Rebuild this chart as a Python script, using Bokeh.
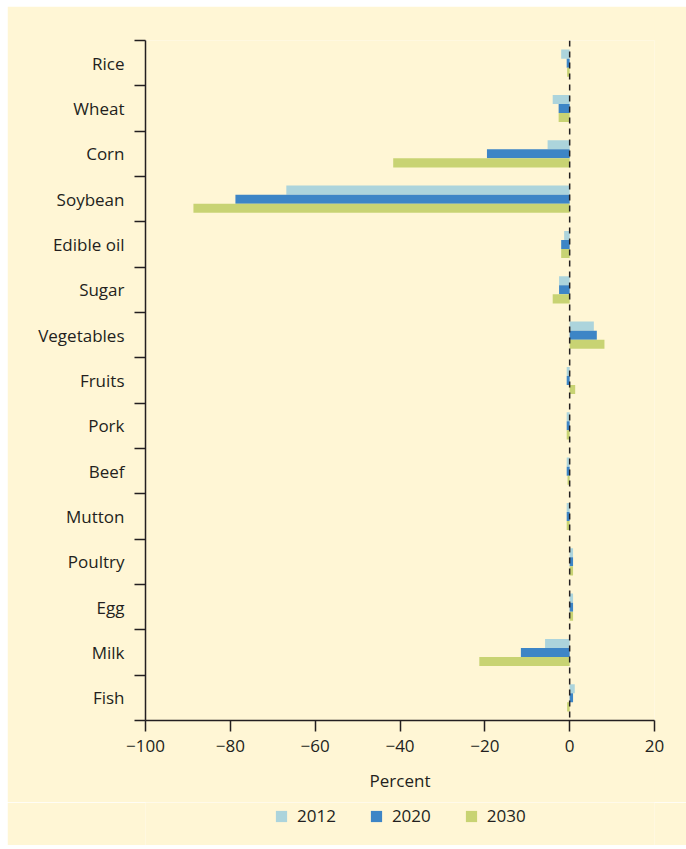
from bokeh.plotting import figure
from bokeh.layouts import column
from bokeh.models import (Range1d, LinearAxis, FixedTicker, Span, Legend, LegendItem,
                          ColumnDataSource)
from bokeh.transform import dodge
from bokeh.embed import file_html
from bokeh.resources import INLINE

categories = ["Rice", "Wheat", "Corn", "Soybean", "Edible oil", "Sugar", "Vegetables",
              "Fruits", "Pork", "Beef", "Mutton", "Poultry", "Egg", "Milk", "Fish"]
v2012 = [-2.0, -4.0, -5.2, -66.8, -1.3, -2.5, 5.7, -0.7, -0.7, -0.7, -0.7, 0.8, 0.8, -5.8, 1.2]
v2020 = [-0.7, -2.6, -19.5, -78.8, -2.0, -2.5, 6.4, -0.7, -0.7, -0.7, -0.7, 0.8, 0.8, -11.5, 0.8]
v2030 = [-0.6, -2.6, -41.6, -88.7, -2.0, -4.0, 8.2, 1.3, -0.7, -0.5, -0.7, 0.8, 0.8, -21.3, -0.6]
years = ["2012", "2020", "2030"]
x_ticks = [-100, -80, -60, -40, -20, 0, 20]

BG = "#fff6d5"
TXT = "#231f20"
FONT = "Open Sans"
FS = "17px"
colors = ["#acd4dc", "#3d85c6", "#c8d373"]

n = len(categories)
ypos = [n - i - 0.5 for i in range(n)]  # category slot centres, first at top
src = ColumnDataSource(dict(cat=categories, y=ypos, y2012=v2012, y2020=v2020, y2030=v2030))

p = figure(frame_width=509, frame_height=680, output_backend="svg", toolbar_location=None,
           y_range=Range1d(0, n), x_range=Range1d(-100, 20),
           x_axis_location=None, y_axis_location=None,
           min_border_left=138, min_border_right=32, min_border_top=34, min_border_bottom=82,
           margin=(6, 0, 0, 7))
p.background_fill_color = BG
p.border_fill_color = BG
p.outline_line_color = None
p.xgrid.visible = False
p.ygrid.visible = False

yax = LinearAxis(ticker=FixedTicker(ticks=ypos, minor_ticks=list(range(n + 1))),
                 major_tick_out=0, major_tick_in=0, minor_tick_out=11, minor_tick_in=0,
                 minor_tick_line_color=TXT, minor_tick_line_width=1.5,
                 axis_line_color=TXT, axis_line_width=1.5,
                 major_label_overrides={y: c for y, c in zip(ypos, categories)},
                 major_label_text_font=FONT, major_label_text_font_size=FS,
                 major_label_text_color=TXT, major_label_standoff=10)
p.add_layout(yax, "left")

xax = LinearAxis(ticker=FixedTicker(ticks=x_ticks), major_tick_out=11, major_tick_in=0,
                 minor_tick_out=0, minor_tick_in=0,
                 major_tick_line_color=TXT, major_tick_line_width=1.5,
                 axis_line_color=TXT, axis_line_width=1.5,
                 major_label_overrides={t: (str(t).replace("-", "\u2212")) for t in x_ticks},
                 major_label_text_font=FONT, major_label_text_font_size=FS,
                 major_label_text_color=TXT, major_label_standoff=8,
                 axis_label="Percent", axis_label_text_font=FONT, axis_label_text_font_size=FS,
                 axis_label_text_font_style="normal", axis_label_text_color=TXT,
                 axis_label_standoff=14)
p.add_layout(xax, "below")

offsets = [0.2, 0.0, -0.2]
for yr, off, col in zip(years, offsets, colors):
    p.hbar(y=dodge("y", off), left=0, right="y" + yr, height=0.2,
           source=src, fill_color=col, line_color=None)

p.add_layout(Span(location=0, dimension="height", line_color=TXT, line_width=1.5,
                  line_dash="6 5"))

# legend strip below the chart (same series, drawn out of view so only the key shows)
lg = figure(width=679, height=43, output_backend="svg", toolbar_location=None,
            x_range=Range1d(0, 1), y_range=Range1d(100, 101),
            x_axis_location=None, y_axis_location=None, min_border=0,
            margin=(0, 0, 0, 7))
lg.background_fill_color = BG
lg.border_fill_color = BG
lg.outline_line_color = None
lg.xgrid.visible = False
lg.ygrid.visible = False
lrs = []
for yr, off, col in zip(years, offsets, colors):
    lrs.append(lg.hbar(y=dodge("y", off), left=0, right="y" + yr, height=0.2,
                       source=src, fill_color=col, line_color=None))
legend = Legend(items=[LegendItem(label=yr, renderers=[r]) for yr, r in zip(years, lrs)],
                orientation="horizontal", location=(129, 18), margin=0, padding=0,
                glyph_width=14, glyph_height=14, label_standoff=9, spacing=33,
                label_text_font=FONT, label_text_font_size=FS, label_text_color=TXT,
                background_fill_alpha=0, border_line_color=None)
lg.add_layout(legend, "center")

layout = column(p, lg, spacing=0)
open("out.html", "w").write(file_html(layout, INLINE))
